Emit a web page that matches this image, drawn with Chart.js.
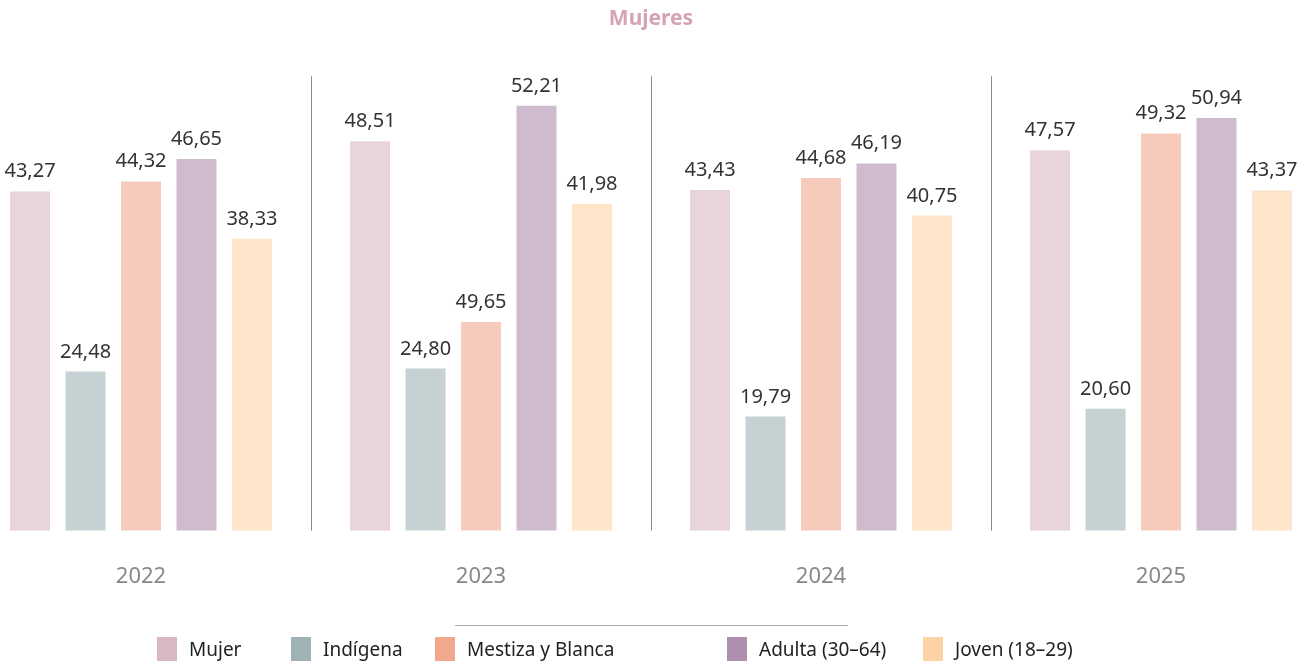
<!DOCTYPE html>
<html>
<head>
<meta charset="utf-8">
<script src="https://cdn.jsdelivr.net/npm/chart.js@4.4.1/dist/chart.umd.min.js"></script>
<style>
    body {
        margin: 0;
        width: 1316px;
        height: 668px;
        overflow: hidden;
        background: #fff;
        position: relative;
        font-family: "Noto Sans", sans-serif;
    }
    #marco {
        position: absolute;
        left: -29px;
        top: 0;
        width: 1374px;
        height: 654px;
    }
    #linea {
        position: absolute;
        left: 455px;
        top: 625px;
        width: 393px;
        height: 1px;
        background: #aaa;
    }
    .item {
        position: absolute;
        top: 637px;
        height: 24px;
        display: flex;
        align-items: center;
        font-size: 19px;
        color: #222;
        white-space: nowrap;
    }
    .caja {
        width: 20px;
        height: 24px;
        margin-right: 12px;
    }
</style>
</head>
<body>
<div id="marco"><canvas id="graficoMujeres"></canvas></div>
<div id="linea"></div>
<div id="leyenda"></div>

<script>
const anios = ["2022", "2023", "2024", "2025"];

const mujer = [43.27, 48.51, 43.43, 47.57];
const indigena = [24.48, 24.80, 19.79, 20.60];
// la barra de 2023 se dibuja más baja que su etiqueta (49,65)
const mestiza = [44.32, 29.65, 44.68, 49.32];
const mestizaEtiqueta = [44.32, 49.65, 44.68, 49.32];
const adulta = [46.65, 52.21, 46.19, 50.94];
const joven = [38.33, 41.98, 40.75, 43.37];

const series = ["Mujer", "Indígena", "Mestiza y Blanca", "Adulta (30–64)", "Joven (18–29)"];
const colores = ["#D9B8C5", "#9FB3B4", "#F0A98E", "#AE90AE", "#FDD3A6"];
const posLeyenda = [157, 291, 435, 727, 923];

function suave(hex) {
    const r = parseInt(hex.slice(1, 3), 16);
    const g = parseInt(hex.slice(3, 5), 16);
    const b = parseInt(hex.slice(5, 7), 16);
    return "rgba(" + r + "," + g + "," + b + ",0.6)";
}

Chart.defaults.font.family = "'Noto Sans', sans-serif";

const separadores = {
    id: "separadores",
    beforeDatasetsDraw(chart) {
        const ctx = chart.ctx;
        const x = chart.scales.x;
        ctx.save();
        ctx.strokeStyle = "#8a8a8a";
        ctx.lineWidth = 1;
        ctx.beginPath();
        for (let i = 0; i < anios.length - 1; i++) {
            const px = Math.round((x.getPixelForValue(i) + x.getPixelForValue(i + 1)) / 2) + 0.5;
            ctx.moveTo(px, chart.chartArea.top + 26);
            ctx.lineTo(px, chart.chartArea.bottom);
        }
        ctx.stroke();
        ctx.restore();
    }
};

const etiquetas = {
    id: "etiquetas",
    afterDatasetsDraw(chart) {
        const ctx = chart.ctx;
        ctx.save();
        ctx.font = "20px 'Noto Sans'";
        ctx.fillStyle = "#333";
        ctx.textAlign = "center";
        ctx.textBaseline = "alphabetic";
        chart.data.datasets.forEach((ds, i) => {
            chart.getDatasetMeta(i).data.forEach((bar, j) => {
                const v = ds.etiquetas ? ds.etiquetas[j] : ds.data[j];
                ctx.fillText(v.toFixed(2).replace(".", ","), bar.x, bar.y - 14);
            });
        });
        ctx.restore();
    }
};

const valores = [mujer, indigena, mestiza, adulta, joven];

const datasets = series.map((nombre, i) => ({
    label: nombre,
    data: valores[i],
    backgroundColor: suave(colores[i]),
    borderWidth: 0,
    categoryPercentage: 0.816,
    barPercentage: 0.72
}));
datasets[2].etiquetas = mestizaEtiqueta;

new Chart(document.getElementById("graficoMujeres"), {
    type: "bar",
    data: {
        labels: anios,
        datasets: datasets
    },
    options: {
        responsive: true,
        maintainAspectRatio: false,
        animation: false,
        layout: {
            padding: { left: 0, right: 14, top: 0, bottom: 31 }
        },
        plugins: {
            legend: { display: false },
            tooltip: { enabled: false },
            title: {
                display: true,
                text: "Mujeres",
                color: "#D4A3B4",
                font: { size: 21, weight: "bold" },
                padding: { top: 6, bottom: 19 }
            }
        },
        scales: {
            x: {
                grid: { display: false, drawTicks: false },
                border: { display: false },
                ticks: {
                    color: "#888",
                    font: { size: 22 },
                    padding: 33
                }
            },
            y: {
                display: false,
                min: 7.9,
                max: 58
            }
        }
    },
    plugins: [separadores, etiquetas]
});

const leyenda = document.getElementById("leyenda");
series.forEach((nombre, i) => {
    const item = document.createElement("div");
    item.className = "item";
    item.style.left = posLeyenda[i] + "px";
    const caja = document.createElement("span");
    caja.className = "caja";
    caja.style.background = colores[i];
    item.appendChild(caja);
    item.appendChild(document.createTextNode(nombre));
    leyenda.appendChild(item);
});
</script>
</body>
</html>
